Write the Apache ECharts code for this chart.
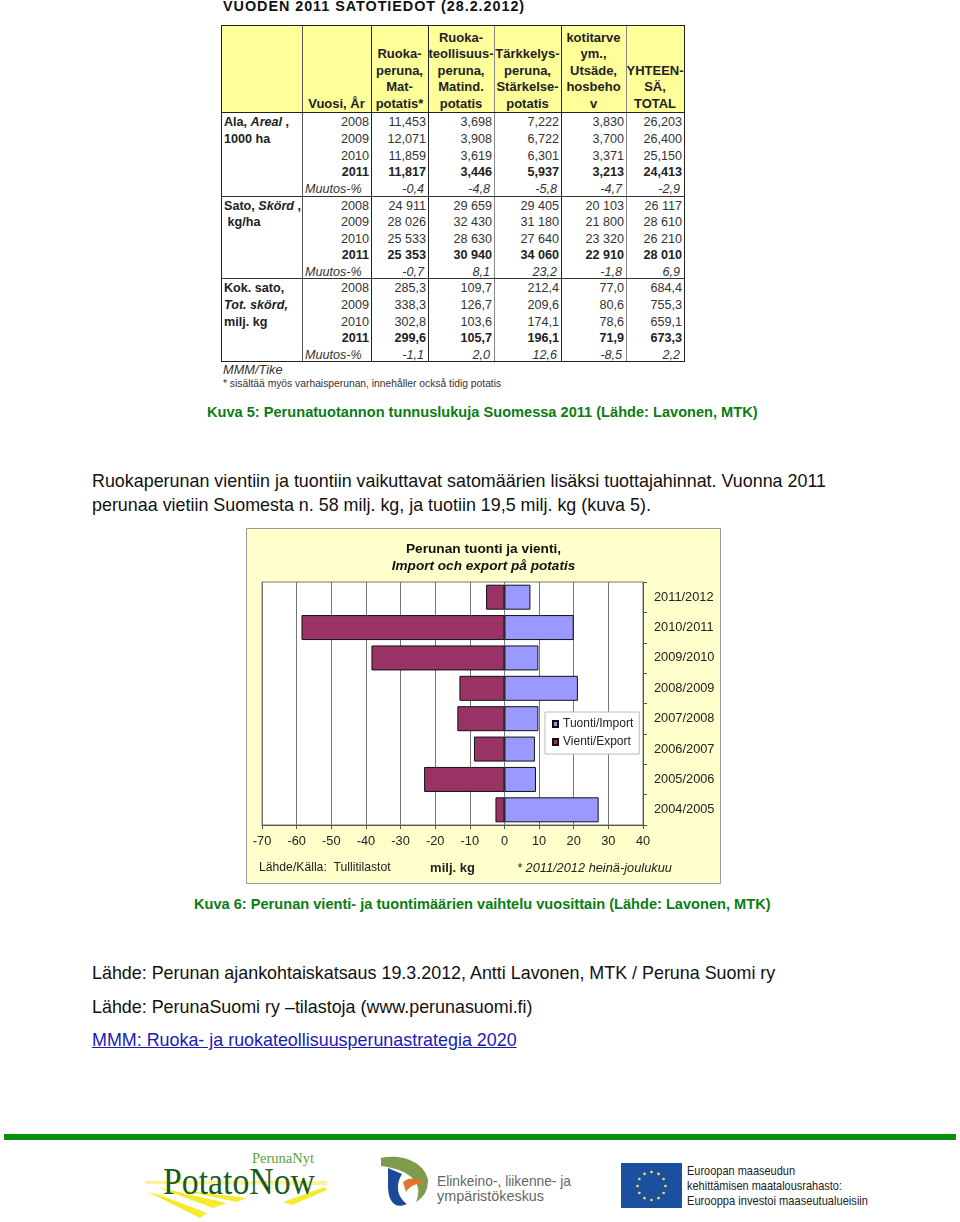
<!DOCTYPE html>
<html>
<head>
<meta charset="utf-8">
<title>Perunan tuonti ja vienti</title>
<script src="https://cdn.jsdelivr.net/npm/echarts@6/dist/echarts.min.js"></script>
<style>
  html, body { margin: 0; padding: 0; background: #fff; }
  body { position: relative; width: 960px; height: 1222px; overflow: hidden; font-family: "Liberation Sans", Arial, sans-serif; color: #000; }
  .t { position: absolute; white-space: nowrap; }
  .caption { font-size: 14.6px; font-weight: bold; color: #0a7d14; }
  .para { font-size: 17.9px; left: 92px; color: #111; }
  #chart { position: absolute; left: 246px; top: 528px; width: 475px; height: 356px; }
  #table { position: absolute; left: 221px; top: 25px; width: 464px; height: 337px; background: #fff; }
  .cell { position: absolute; font-size: 12.6px; color: #333; white-space: nowrap; line-height: 16px; }
  .head { position: absolute; top: 0; height: 87px; background: #ffff99; overflow: hidden; }
  .head div { position: absolute; left: 0; right: 0; bottom: 0; text-align: center; font-size: 13px; font-weight: bold; line-height: 16.4px; color: #222; }
  .vline, .hline { position: absolute; }
</style>
</head>
<body>
<div class="t" style="left:223px;top:0;line-height:12px;font-size:14.4px;font-weight:bold;letter-spacing:.95px;color:#111">VUODEN 2011 SATOTIEDOT (28.2.2012)</div>
<div id="table"></div>
<div class="t" style="left:223px;top:362px;font-size:12.8px;font-style:italic;color:#333">MMM/Tike</div>
<div class="t" style="left:223px;top:378px;font-size:10.3px;color:#333">* sisältää myös varhaisperunan, innehåller också tidig potatis</div>

<div class="t caption" style="left:207px;top:404px">Kuva 5: Perunatuotannon tunnuslukuja Suomessa 2011 (Lähde: Lavonen, MTK)</div>
<div class="t para" style="top:471px">Ruokaperunan vientiin ja tuontiin vaikuttavat satomäärien lisäksi tuottajahinnat. Vuonna 2011</div>
<div class="t para" style="top:495px">perunaa vietiin Suomesta n. 58 milj. kg, ja tuotiin 19,5 milj. kg (kuva 5).</div>

<div id="chart"></div>

<div class="t caption" style="left:194px;top:896px">Kuva 6: Perunan vienti- ja tuontimäärien vaihtelu vuosittain (Lähde: Lavonen, MTK)</div>
<div class="t para" style="top:963px">Lähde: Perunan ajankohtaiskatsaus 19.3.2012, Antti Lavonen, MTK / Peruna Suomi ry</div>
<div class="t para" style="top:997px">Lähde: PerunaSuomi ry –tilastoja (www.perunasuomi.fi)</div>
<div class="t para" style="top:1030px;color:#1a1ab8;text-decoration:underline">MMM: Ruoka- ja ruokateollisuusperunastrategia 2020</div>

<!-- alaosan palkki ja logot -->
<div style="position:absolute;left:4px;top:1134px;width:952px;height:6px;background:#0a8f0a"></div>
<svg style="position:absolute;left:0;top:1140px" width="960" height="82">
  <g fill="#f7ea2a">
    <polygon points="145,41 327,41 327,45 145,44" opacity=".5"/>
    <polygon points="148,52 160,55 207,73 200,78"/>
    <polygon points="157,47 227,63 213,68"/>
    <polygon points="180,50 247,58 237,62"/>
    <polygon points="283,62 325,47 327,50 292,65"/>
  </g>
  <text x="252" y="23" font-family="Liberation Serif" font-size="14" fill="#5d9e3c" textLength="62" lengthAdjust="spacingAndGlyphs">PerunaNyt</text>
  <text x="163" y="54" font-family="Liberation Serif" font-size="38" fill="#1c5a1c" textLength="152" lengthAdjust="spacingAndGlyphs">PotatoNow</text>
  <path d="M381 18 C398 14 424 20 428 40 C428 50 424 57 416 62 C424 44 412 30 381 26 Z" fill="#7d9c4c"/>
  <path d="M388 28 L402 34 C396 44 396 56 407 64 C394 70 388 60 388 46 Z" fill="#1b4a96"/>
  <path d="M403 42 C410 36 420 38 424 44 C416 43 410 46 406 52 Z" fill="#e0762a"/>
  <text x="437" y="46" font-family="Liberation Sans" font-size="15" fill="#666" textLength="134" lengthAdjust="spacingAndGlyphs">Elinkeino-, liikenne- ja</text>
  <text x="437" y="61" font-family="Liberation Sans" font-size="15" fill="#666" textLength="107" lengthAdjust="spacingAndGlyphs">ympäristökeskus</text>
  <rect x="621" y="23" width="61" height="45" fill="#1b50a0"/>
  <g fill="#ffe23a" id="stars"></g>
  <g font-family="Liberation Sans" font-size="12.4" fill="#222">
    <text x="687" y="35" textLength="108" lengthAdjust="spacingAndGlyphs">Euroopan maaseudun</text>
    <text x="687" y="50" textLength="155" lengthAdjust="spacingAndGlyphs">kehittämisen maatalousrahasto:</text>
    <text x="687" y="65" textLength="181" lengthAdjust="spacingAndGlyphs">Eurooppa investoi maaseutualueisiin</text>
  </g>
</svg>

<script>
// kuva 6: tuonti ja vienti, milj. kg
const years = ['2011/2012', '2010/2011', '2009/2010', '2008/2009', '2007/2008', '2006/2007', '2005/2006', '2004/2005']
const tuonti = [7.5, 20, 9.8, 21.2, 9.8, 8.8, 9.1, 27.2]
const vienti = [-5.3, -58.6, -38.4, -13, -13.6, -8.8, -23.2, -2.6]

// kuva 5: satotiedot
const tableHead = [
  ['Vuosi, År'],
  ['Ruoka-', 'peruna,', 'Mat-', 'potatis*'],
  ['Ruoka-', 'teollisuus-', 'peruna,', 'Matind.', 'potatis'],
  ['Tärkkelys-', 'peruna,', 'Stärkelse-', 'potatis'],
  ['kotitarve', 'ym.,', 'Utsäde,', 'hosbeho', 'v'],
  ['YHTEEN-', 'SÄ,', 'TOTAL']
]
const rowYears = ['2008', '2009', '2010', '2011', 'Muutos-%']
const alaRows = [
  ['11,453', '3,698', '7,222', '3,830', '26,203'],
  ['12,071', '3,908', '6,722', '3,700', '26,400'],
  ['11,859', '3,619', '6,301', '3,371', '25,150'],
  ['11,817', '3,446', '5,937', '3,213', '24,413'],
  ['-0,4', '-4,8', '-5,8', '-4,7', '-2,9']
]
const satoRows = [
  ['24 911', '29 659', '29 405', '20 103', '26 117'],
  ['28 026', '32 430', '31 180', '21 800', '28 610'],
  ['25 533', '28 630', '27 640', '23 320', '26 210'],
  ['25 353', '30 940', '34 060', '22 910', '28 010'],
  ['-0,7', '8,1', '23,2', '-1,8', '6,9']
]
const kokRows = [
  ['285,3', '109,7', '212,4', '77,0', '684,4'],
  ['338,3', '126,7', '209,6', '80,6', '755,3'],
  ['302,8', '103,6', '174,1', '78,6', '659,1'],
  ['299,6', '105,7', '196,1', '71,9', '673,3'],
  ['-1,1', '2,0', '12,6', '-8,5', '2,2']
]
const sectionLabels = [
  ['<b>Ala, <i>Areal</i> ,</b>', '<b>1000 ha</b>'],
  ['<b>Sato, <i>Skörd</i> ,</b>', '<b>&nbsp;kg/ha</b>'],
  ['<b>Kok. sato,</b>', '<b><i>Tot. skörd,</i></b>', '<b>milj. kg</b>']
]

// taulukon asettelu, x ja y suhteessa #table
const colX = [0, 81, 150, 207, 273, 340, 405, 463]
const colLine = ['#222', '#555', '#222', '#222', '#888', '#222', '#888', '#222']
const sectionY = [87, 171, 253, 337]

const table = document.getElementById('table')
function addBox(cls, css, html) {
  let d = document.createElement('div')
  d.className = cls
  d.style.cssText = css
  if (html) d.innerHTML = html
  table.appendChild(d)
}

for (let i = 0; i < 7; i++) {
  let inner = i > 0 ? tableHead[i - 1].join('<br>') : ''
  addBox('head', `left:${colX[i]}px;width:${colX[i + 1] - colX[i]}px`, `<div>${inner}</div>`)
}

;[alaRows, satoRows, kokRows].forEach((rows, s) => {
  let top = sectionY[s]
  let rowH = (sectionY[s + 1] - top) / 5
  sectionLabels[s].forEach((label, i) => {
    addBox('cell', `left:3px;top:${top + 2 + i * rowH}px;color:#222`, label)
  })
  rows.forEach((row, r) => {
    let y = top + 2 + r * rowH
    let style = r === 3 ? 'font-weight:bold;color:#222;' : r === 4 ? 'font-style:italic;' : ''
    if (r === 4) {
      addBox('cell', `left:${colX[1] + 3}px;top:${y}px;${style}`, rowYears[r])
    } else {
      addBox('cell', `right:${463 - colX[2] + 3}px;top:${y}px;${style}`, rowYears[r])
    }
    row.forEach((v, c) => {
      let pad = r === 4 ? 5 : 3
      addBox('cell', `right:${463 - colX[c + 3] + pad}px;top:${y}px;${style}`, v)
    })
  })
})

colX.forEach((x, i) => {
  addBox('vline', `left:${x}px;top:0;width:1px;height:337px;background:${colLine[i]}`)
})
addBox('hline', 'left:0;top:0;width:464px;height:1px;background:#222')
addBox('hline', 'left:0;top:87px;width:464px;height:1px;background:#222')
addBox('hline', 'left:0;top:171px;width:464px;height:1px;background:#333')
addBox('hline', 'left:0;top:253px;width:464px;height:1px;background:#333')
addBox('hline', 'left:0;top:336px;width:464px;height:1px;background:#222')

// EU-lipun tähdet
const stars = document.getElementById('stars')
for (let i = 0; i < 12; i++) {
  let a = i * Math.PI / 6
  let c = document.createElementNS('http://www.w3.org/2000/svg', 'circle')
  c.setAttribute('cx', 651.5 + 14 * Math.sin(a))
  c.setAttribute('cy', 46 - 14 * Math.cos(a))
  c.setAttribute('r', 1.3)
  stars.appendChild(c)
}

const labelFont = { fontFamily: 'Liberation Sans', fontSize: 12.8, color: '#222' }

const chartOption = {
  animation: false,
  backgroundColor: '#ffffcc',
  textStyle: { fontFamily: 'Liberation Sans' },
  title: {
    left: 'center',
    top: 8,
    itemGap: 0,
    textAlign: 'left',
    text: '{a|Perunan tuonti ja vienti,}\n{b|Import och export på potatis}',
    textStyle: {
      rich: {
        a: { fontFamily: 'Liberation Sans', fontSize: 13.7, fontWeight: 'bold', color: '#111', lineHeight: 17, align: 'center' },
        b: { fontFamily: 'Liberation Sans', fontSize: 13.6, fontWeight: 'bold', fontStyle: 'italic', color: '#111', lineHeight: 17, align: 'center' }
      }
    }
  },
  grid: {
    left: 16,
    top: 54,
    width: 381,
    height: 243,
    show: true,
    backgroundColor: '#fff',
    borderColor: '#777',
    borderWidth: 1
  },
  legend: {
    left: 299,
    top: 184,
    orient: 'vertical',
    icon: 'rect',
    itemWidth: 5,
    itemHeight: 6,
    itemGap: 6,
    padding: [6, 6, 6, 7],
    backgroundColor: '#fff',
    borderColor: '#bbb',
    borderWidth: 1,
    textStyle: { fontFamily: 'Liberation Sans', fontSize: 12, color: '#222' },
    data: ['Tuonti/Import', 'Vienti/Export']
  },
  xAxis: {
    type: 'value',
    min: -70,
    max: 40,
    interval: 10,
    name: 'milj. kg',
    nameLocation: 'middle',
    nameGap: 37,
    nameTextStyle: { fontFamily: 'Liberation Sans', fontSize: 13, fontWeight: 'bold', color: '#222' },
    axisLine: { show: true, onZero: false, lineStyle: { color: '#555' } },
    axisTick: { show: true, length: 4, lineStyle: { color: '#555' } },
    axisLabel: Object.assign({ margin: 10, showMinLabel: true, showMaxLabel: true }, labelFont),
    splitLine: { show: true, lineStyle: { color: '#777', width: 1 } }
  },
  yAxis: {
    type: 'category',
    data: years,
    inverse: true,
    position: 'right',
    axisLine: { show: true, onZero: false, lineStyle: { color: '#555' } },
    axisTick: { show: true, length: 4, alignWithLabel: false, lineStyle: { color: '#555' } },
    axisLabel: Object.assign({ margin: 11 }, labelFont)
  },
  series: [
    {
      name: 'Tuonti/Import',
      type: 'bar',
      stack: 'kauppa',
      barWidth: 25,
      data: tuonti,
      itemStyle: { color: '#9999ff', borderColor: '#111', borderWidth: 1 }
    },
    {
      name: 'Vienti/Export',
      type: 'bar',
      stack: 'kauppa',
      barWidth: 25,
      data: vienti,
      itemStyle: { color: '#993366', borderColor: '#111', borderWidth: 1 }
    }
  ],
  graphic: [
    { type: 'rect', silent: true, shape: { x: 0.5, y: 0.5, width: 474, height: 355 }, style: { fill: 'none', stroke: '#999', lineWidth: 1 } },
    { type: 'text', left: 13, top: 334, style: { text: 'Lähde/Källa:  Tullitilastot', font: '12.2px "Liberation Sans"', fill: '#222' } },
    { type: 'text', left: 271, top: 334, style: { text: '* 2011/2012 heinä-joulukuu', font: 'italic 12.8px "Liberation Sans"', fill: '#222' } }
  ]
}

let chartDom = document.getElementById('chart')
let chart = echarts.init(chartDom, null, { renderer: 'canvas' })
chart.setOption(chartOption)
</script>
</body>
</html>
